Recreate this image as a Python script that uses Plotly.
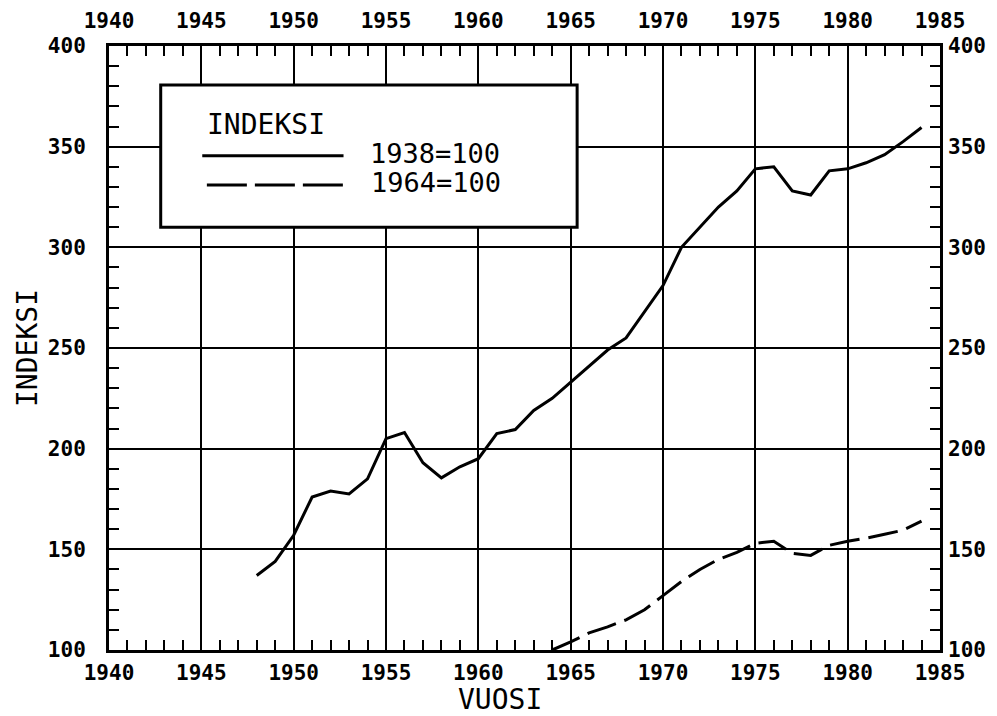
import plotly.graph_objects as go

# ---- data ----
years_1938 = list(range(1948, 1985))
index_1938 = [137, 144, 157, 176, 179, 177.5, 185, 205, 208, 193, 185.5, 191, 195,
              207.5, 209.5, 219, 225, 233, 241, 249, 255, 268, 281, 300, 310, 320,
              328, 339, 340, 328, 326, 338, 339, 342, 346, 352.5, 359.5]

years_1964 = list(range(1964, 1985))
index_1964 = [100, 104, 108.5, 111.5, 115, 120, 127, 134, 140, 145, 148.5, 153, 154,
              148, 147, 152, 154, 155.5, 157.5, 159.5, 164]

legend_title = "INDEKSI"
legend_labels = ["1938=100", "1964=100"]

TICKFONT = dict(family="DejaVu Sans Mono", size=21, color="black", weight="bold")
TEXTFONT = dict(family="DejaVu Sans Mono", size=28, color="black")
LEGFONT = dict(family="DejaVu Sans Mono", size=27, color="black")

fig = go.Figure()
fig.add_trace(go.Scatter(x=years_1938, y=index_1938, mode="lines",
                         line=dict(color="black", width=3), showlegend=False))
fig.add_trace(go.Scatter(x=years_1964, y=index_1964, mode="lines",
                         line=dict(color="black", width=3, dash="30px,9px"), showlegend=False))
# invisible trace so the top/right axes get drawn
fig.add_trace(go.Scatter(x=[1940], y=[100], xaxis="x2", yaxis="y2", mode="markers",
                         marker=dict(opacity=0), showlegend=False, hoverinfo="skip"))

xcommon = dict(range=[1940, 1985], tick0=1940, dtick=5, ticks="inside", ticklen=10,
               tickwidth=2, tickcolor="black", tickfont=TICKFONT, automargin=False,
               minor=dict(dtick=1, ticks="inside", ticklen=10, tickwidth=2,
                          tickcolor="black", showgrid=False))
ycommon = dict(range=[100, 400], tick0=100, dtick=50, ticks="inside", ticklen=10,
               tickwidth=2, tickcolor="black", tickfont=TICKFONT, automargin=False,
               minor=dict(dtick=10, ticks="inside", ticklen=10, tickwidth=2,
                          tickcolor="black", showgrid=False))

# the page body adds an 8px offset, so margins are shifted to compensate
fig.update_layout(
    width=997, height=716,
    margin=dict(l=101, r=65, t=38, b=74),
    plot_bgcolor="white", paper_bgcolor="white",
    xaxis=dict(**xcommon, showgrid=True, gridcolor="black", gridwidth=2,
               showline=True, linecolor="black", linewidth=3, mirror=True,
               zeroline=False, ticklabelstandoff=2),
    xaxis2=dict(**xcommon, overlaying="x", side="top", matches="x", showgrid=False,
                showline=False, zeroline=False, ticklabelstandoff=13),
    yaxis=dict(**ycommon, showgrid=True, gridcolor="black", gridwidth=2,
               showline=True, linecolor="black", linewidth=3, mirror=True,
               zeroline=False, ticklabelstandoff=16),
    yaxis2=dict(**ycommon, overlaying="y", side="right", matches="y", showgrid=False,
                showline=False, zeroline=False, ticklabelstandoff=7),
)

# ---- legend box drawn by hand ----
fig.add_shape(type="rect", xref="x", yref="y", x0=1942.8, x1=1965.35, y0=310, y1=380.6,
              fillcolor="white", line=dict(color="black", width=3), layer="above")
fig.add_shape(type="line", xref="x", yref="y", x0=1945.05, x1=1952.7, y0=345.5, y1=345.5,
              line=dict(color="black", width=3), layer="above")
fig.add_shape(type="line", xref="x", yref="y", x0=1945.3, x1=1952.7, y0=331, y1=331,
              line=dict(color="black", width=3, dash="40px,8px"), layer="above")
fig.add_annotation(x=1945.2, y=361, xref="x", yref="y", text=legend_title,
                   showarrow=False, xanchor="left", yanchor="middle", font=TEXTFONT)
fig.add_annotation(x=1954.0, y=346.5, xref="x", yref="y", text=legend_labels[0],
                   showarrow=False, xanchor="left", yanchor="middle", font=LEGFONT)
fig.add_annotation(x=1954.1, y=332, xref="x", yref="y", text=legend_labels[1],
                   showarrow=False, xanchor="left", yanchor="middle", font=LEGFONT)

# ---- axis titles ----
fig.add_annotation(x=0.47, y=0, xref="paper", yref="paper", yshift=-49, text="VUOSI",
                   showarrow=False, xanchor="center", yanchor="middle", font=TEXTFONT)
fig.add_annotation(x=0, y=0.5, xref="paper", yref="paper", xshift=-82, text="INDEKSI",
                   showarrow=False, textangle=-90, xanchor="center", yanchor="middle",
                   font=TEXTFONT)

fig.write_html("out.html")
